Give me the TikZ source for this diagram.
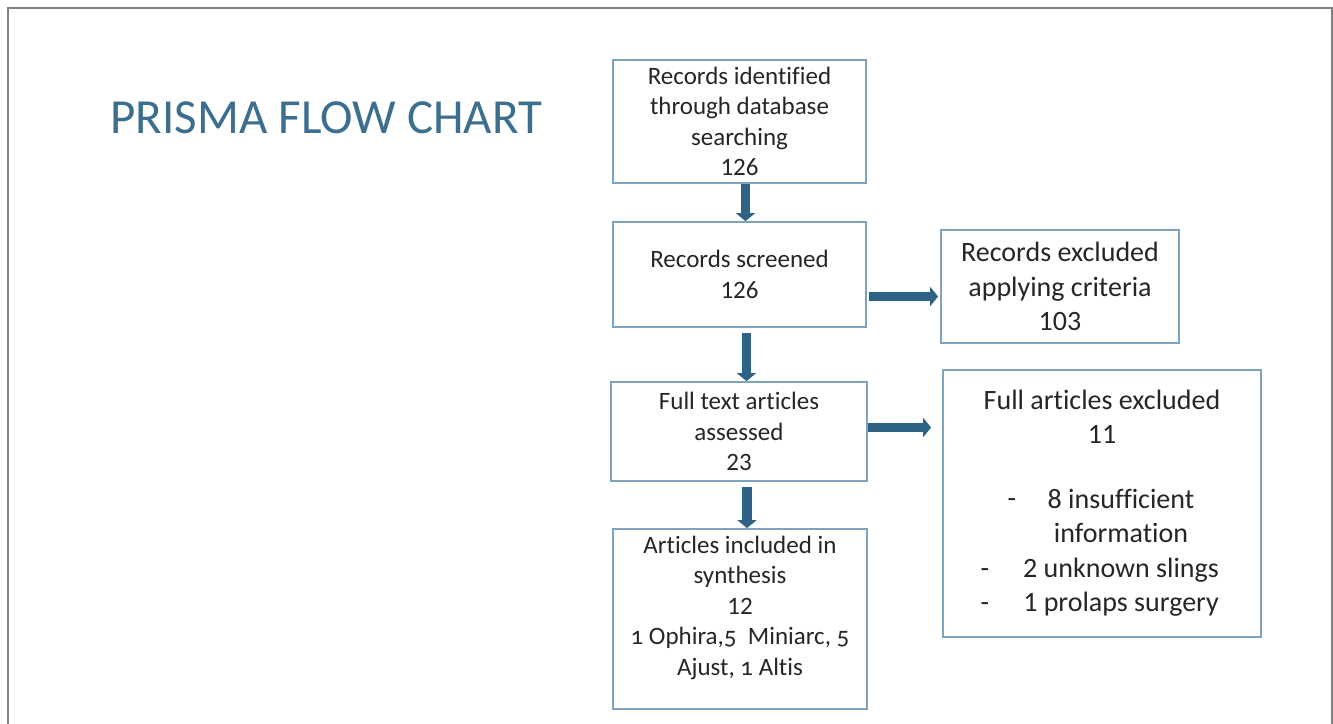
\documentclass[tikz,border=0pt]{standalone}
\usepackage{fontspec}
\setmainfont{Carlito}[Ligatures=NoCommon]
\newfontfamily\oldnum{Carlito}[Numbers=OldStyle,Ligatures=NoCommon]
\usepackage{xcolor}
\usepackage{tikz}
\usetikzlibrary{arrows.meta}
\definecolor{prismablue}{RGB}{59,110,143}
\definecolor{boxline}{RGB}{126,163,190}
\definecolor{arrowblue}{RGB}{47,99,133}
\definecolor{txtgray}{RGB}{38,38,38}
\tikzset{
    box/.style={draw=boxline,line width=1.8pt,align=center,inner sep=0pt,text=txtgray},
    smalltxt/.style={font=\fontsize{25}{30.5}\selectfont},
    bigtxt/.style={font=\fontsize{28}{34.5}\selectfont},
    flow/.style={draw=arrowblue,line width=9.5pt,-{Triangle[width=19pt,length=8pt]}}
}

\begin{document}
\begin{tikzpicture}[x=1pt,y=-1pt]
    \useasboundingbox (0,0) rectangle (1333,723);
    \fill[white] (0,0) rectangle (1333,723);
    \clip (0,0) rectangle (1333,723);
    \draw[gray,line width=2pt] (8,8) rectangle (1332,760);
    \node[font=\fontsize{49}{59}\selectfont,text=prismablue,anchor=base west] (title) at (107,133) {PRISMA FLOW CHART};
    % left column
    \node[box,smalltxt,minimum width=253pt,minimum height=123pt] (ident) at (739.5,121.5) {Records identified\\through database\\searching\\126};
    \node[box,smalltxt,minimum width=253pt,minimum height=105pt] (screen) at (739.5,274.5) {Records screened\\126};
    \node[box,smalltxt,minimum width=256pt,minimum height=99pt] (assess) at (739,431.5) {Full text articles\\assessed\\23};
    \node[box,minimum width=254pt,minimum height=180pt] (incl) at (740,619) {};
    \node[smalltxt,align=center,anchor=north,text=txtgray] (incltext) at ([yshift=-4pt]incl.north) {Articles included in\\synthesis\\12\\{\oldnum 1 Ophira,5\ \ Miniarc, 5}\\{\oldnum Ajust, 1 Altis}};
    % right column
    \node[box,bigtxt,minimum width=238pt,minimum height=113pt] (recex) at (1060,286.5) {Records excluded\\applying criteria\\103};
    \node[box,minimum width=318pt,minimum height=267pt] (fullex) at (1102,503.5) {};
    \node[bigtxt,align=center,anchor=north,text=txtgray] (fullhead) at ([yshift=-17pt]fullex.north) {Full articles excluded\\11};
    \node[bigtxt,align=center,text=txtgray] (reasons) at (1121,553) {8 insufficient\\information\\2 unknown slings\\1 prolaps surgery};
    \node[bigtxt,text=txtgray,anchor=base] (dasha) at (1012,507.5) {-};
    \node[bigtxt,text=txtgray,anchor=base] (dashb) at (985,577.5) {-};
    \node[bigtxt,text=txtgray,anchor=base] (dashc) at (985,611.5) {-};
    % arrows
    \draw[flow] ([xshift=6pt]ident.south) -- ([xshift=6pt]ident.south |- screen.north);
    \draw[flow] ([xshift=7pt,yshift=-5pt]screen.south) -- ([xshift=7pt]screen.south |- assess.north);
    \draw[flow] ([xshift=8pt,yshift=-5pt]assess.south) -- ([xshift=8pt]assess.south |- incl.north);
    \draw[flow,shorten >=4pt] ([shift={(2pt,-22pt)}]screen.east) -- ([shift={(2pt,-22pt)}]screen.east -| recex.west);
    \draw[flow,shorten >=11pt] ([yshift=4pt]assess.east) -- ([yshift=4pt]assess.east -| fullex.west);
\end{tikzpicture}
\end{document}
